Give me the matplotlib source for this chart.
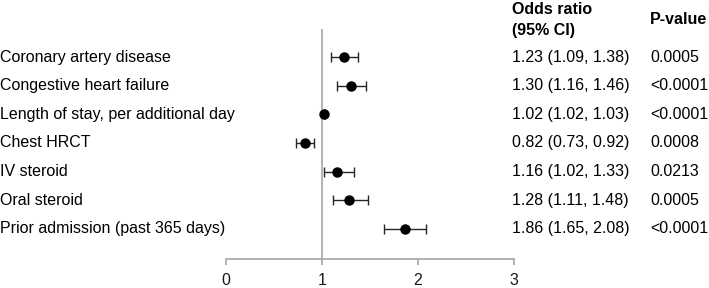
import matplotlib
matplotlib.use("Agg")
import matplotlib.pyplot as plt
from matplotlib.transforms import blended_transform_factory

plt.rcParams["font.family"] = ["Liberation Sans", "DejaVu Sans"]

labels = [
    "Coronary artery disease",
    "Congestive heart failure",
    "Length of stay, per additional day",
    "Chest HRCT",
    "IV steroid",
    "Oral steroid",
    "Prior admission (past 365 days)",
]
odds = [1.23, 1.30, 1.02, 0.82, 1.16, 1.28, 1.86]
ci_low = [1.09, 1.16, 1.02, 0.73, 1.02, 1.11, 1.65]
ci_high = [1.38, 1.46, 1.03, 0.92, 1.33, 1.48, 2.08]
p_values = ["0.0005", "<0.0001", "<0.0001", "0.0008", "0.0213", "0.0005", "<0.0001"]
x_ticks = [0, 1, 2, 3]

W, H = 709, 288
FS = 11.5
fig = plt.figure(figsize=(W / 100, H / 100), dpi=100)
ax = fig.add_axes([226 / W, 1 - 259 / H, (514 - 226) / W, (259 - 29) / H])

rows = list(range(len(labels)))
err = [[o - lo for o, lo in zip(odds, ci_low)], [hi - o for o, hi in zip(odds, ci_high)]]
ax.axvline(1, color="#a6a6a6", lw=1.2, zorder=1)
ax.errorbar(odds, rows, xerr=err, fmt="o", color="black", ecolor="#262626",
            elinewidth=1.0, capsize=3.5, capthick=1.0, markersize=6.5, zorder=3)

ax.set_xlim(0, 3)
ax.set_ylim(len(labels) + 0.05, -0.98)
ax.set_xticks(x_ticks)
ax.set_xticklabels([str(t) for t in x_ticks], fontsize=FS)
ax.set_yticks([])
for side in ["top", "right", "left"]:
    ax.spines[side].set_visible(False)
ax.spines["bottom"].set_color("#a6a6a6")
ax.spines["bottom"].set_linewidth(1.2)
ax.tick_params(axis="x", direction="out", length=4, width=1.2, color="#a6a6a6",
               pad=6, labelcolor="#1a1a1a")

trans = blended_transform_factory(fig.transFigure, ax.transData)
for r, lab, o, lo, hi, p in zip(rows, labels, odds, ci_low, ci_high, p_values):
    ax.text(0.0, r, lab, transform=trans, fontsize=FS, va="center", ha="left", clip_on=False)
    ax.text(512 / W, r, f"{o:.2f} ({lo:.2f}, {hi:.2f})", transform=trans,
            fontsize=FS, va="center", ha="left", clip_on=False)
    ax.text(650 / W, r, p, transform=trans, fontsize=FS, va="center", ha="left", clip_on=False)

fig.text(512 / W, 1 - 20 / H, "Odds ratio\n(95% CI)", fontsize=FS, fontweight="bold",
         va="center", ha="left", linespacing=1.55)
fig.text(650 / W, 1 - 19 / H, "P-value", fontsize=FS, fontweight="bold", va="center", ha="left")

fig.savefig("out.png", dpi=100)
